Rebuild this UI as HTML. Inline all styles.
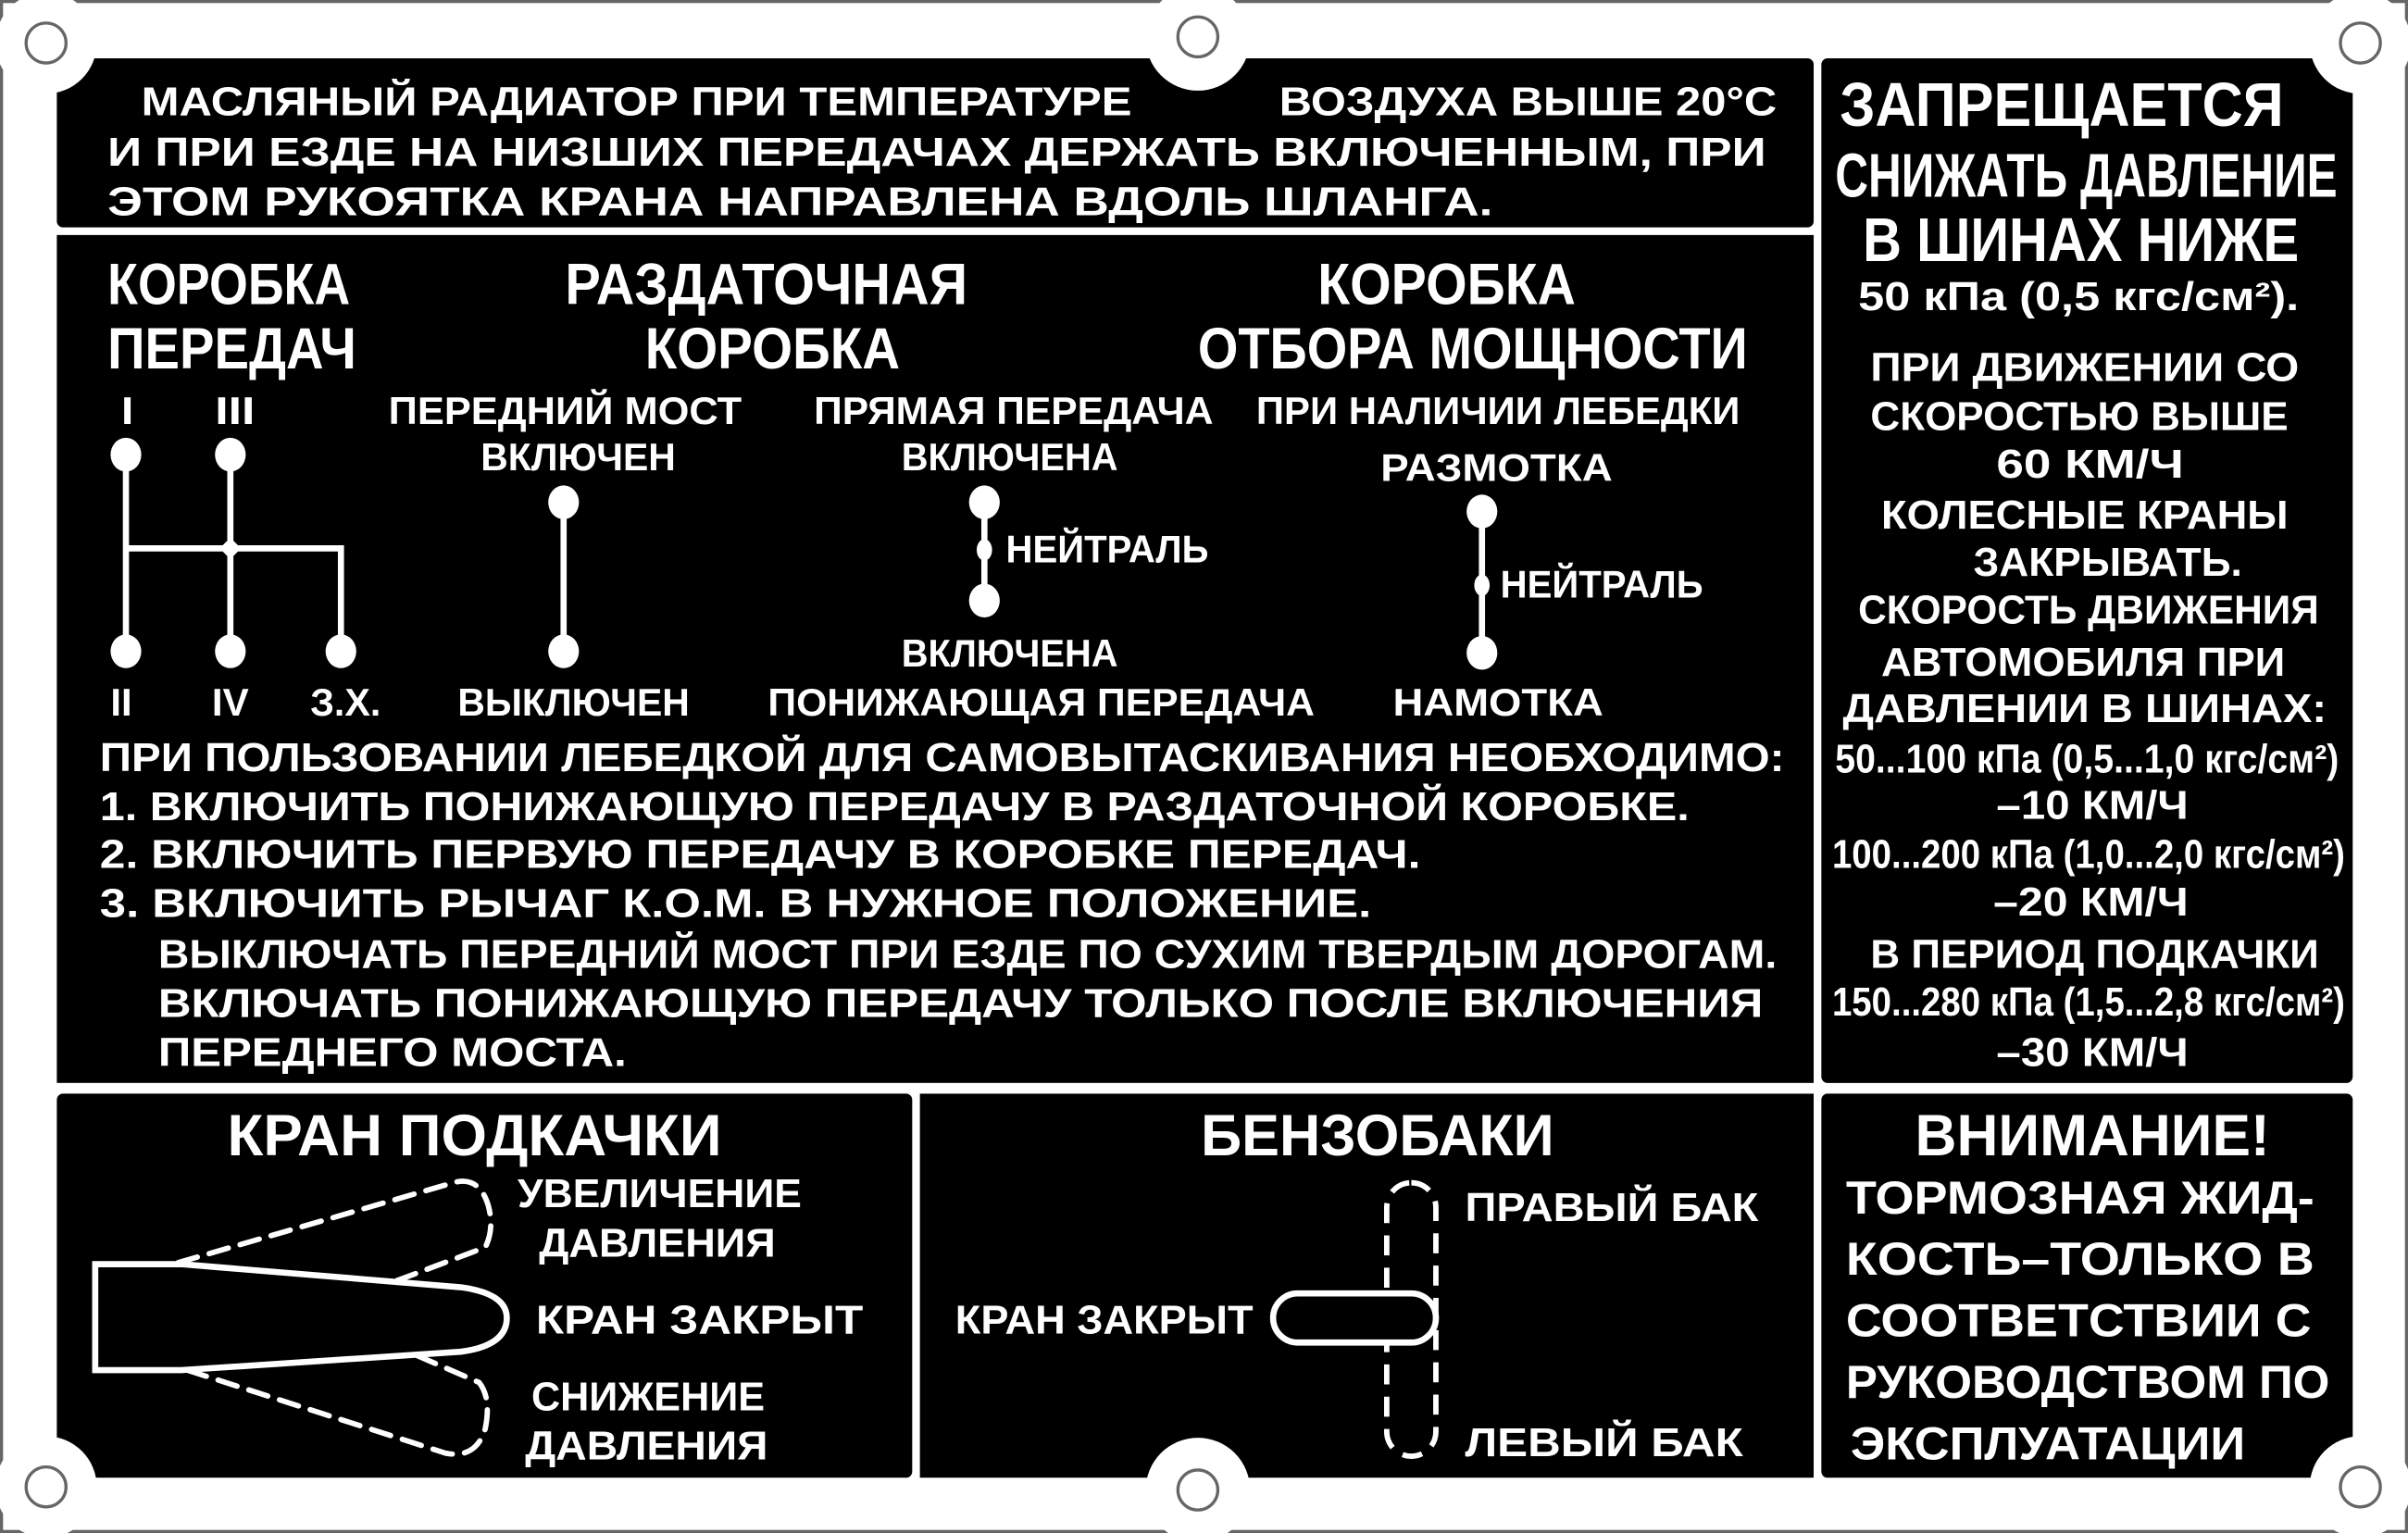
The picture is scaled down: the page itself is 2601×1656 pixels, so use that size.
<!DOCTYPE html>
<html><head><meta charset="utf-8"><style>
html,body{margin:0;padding:0;background:#fff;width:2601px;height:1656px;overflow:hidden}
svg{display:block}
text{fill:#fff;font-family:"Liberation Sans","DejaVu Sans",sans-serif;font-weight:bold}
</style></head><body>
<svg width="2601" height="1656" viewBox="0 0 1568 998" preserveAspectRatio="none" xmlns="http://www.w3.org/2000/svg">
<rect x="0" y="0" width="1568" height="998" fill="#fff"/>
<rect x="1" y="1" width="1566" height="996" fill="none" stroke="#666" stroke-width="2"/>
<!-- panels -->
<g fill="#000">
<rect x="37" y="38" width="1144" height="110" rx="4"/>
<rect x="37" y="153" width="1144" height="552"/>
<rect x="1186" y="38" width="346" height="667" rx="4"/>
<rect x="37" y="712" width="557" height="250" rx="4"/>
<rect x="599" y="712" width="582" height="250"/>
<rect x="1186" y="712" width="346" height="250" rx="4"/>
</g>
<!-- cutouts -->
<g fill="#fff">
<circle cx="30" cy="28" r="33"/>
<circle cx="780" cy="25" r="34"/>
<circle cx="1537" cy="28" r="33"/>
<circle cx="30" cy="968" r="33"/>
<circle cx="780" cy="970" r="34"/>
<circle cx="1537" cy="968" r="33"/>
</g>
<g fill="none" stroke="#666" stroke-width="2">
<ellipse cx="30" cy="28" rx="13" ry="13"/>
<ellipse cx="780" cy="24" rx="13" ry="13"/>
<ellipse cx="1537" cy="28" rx="13" ry="13"/>
<ellipse cx="30" cy="968" rx="13" ry="13"/>
<ellipse cx="780" cy="970" rx="13" ry="13"/>
<ellipse cx="1537" cy="968" rx="13" ry="13"/>
</g>

<!-- top text -->
<g font-size="26">
<text x="92" y="75" textLength="645" lengthAdjust="spacingAndGlyphs">МАСЛЯНЫЙ РАДИАТОР ПРИ ТЕМПЕРАТУРЕ</text>
<text x="833" y="75" textLength="324" lengthAdjust="spacingAndGlyphs">ВОЗДУХА ВЫШЕ 20°С</text>
<text x="70" y="108" textLength="1080" lengthAdjust="spacingAndGlyphs">И ПРИ ЕЗДЕ НА НИЗШИХ ПЕРЕДАЧАХ ДЕРЖАТЬ ВКЛЮЧЕННЫМ, ПРИ</text>
<text x="70" y="140" textLength="902" lengthAdjust="spacingAndGlyphs">ЭТОМ РУКОЯТКА КРАНА НАПРАВЛЕНА ВДОЛЬ ШЛАНГА.</text>
</g>

<!-- middle headings -->
<g font-size="38">
<text x="70" y="198" textLength="158" lengthAdjust="spacingAndGlyphs">КОРОБКА</text>
<text x="70" y="240" textLength="162" lengthAdjust="spacingAndGlyphs">ПЕРЕДАЧ</text>
<text x="368" y="198" textLength="262" lengthAdjust="spacingAndGlyphs">РАЗДАТОЧНАЯ</text>
<text x="420" y="240" textLength="166" lengthAdjust="spacingAndGlyphs">КОРОБКА</text>
<text x="858" y="198" textLength="168" lengthAdjust="spacingAndGlyphs">КОРОБКА</text>
<text x="780" y="240" textLength="358" lengthAdjust="spacingAndGlyphs">ОТБОРА МОЩНОСТИ</text>
</g>
<g font-size="25">
<text x="79" y="276" textLength="8" lengthAdjust="spacingAndGlyphs">I</text>
<text x="140" y="276" textLength="26" lengthAdjust="spacingAndGlyphs">III</text>
<text x="253" y="276" textLength="230" lengthAdjust="spacingAndGlyphs">ПЕРЕДНИЙ МОСТ</text>
<text x="530" y="276" textLength="260" lengthAdjust="spacingAndGlyphs">ПРЯМАЯ ПЕРЕДАЧА</text>
<text x="818" y="276" textLength="315" lengthAdjust="spacingAndGlyphs">ПРИ НАЛИЧИИ ЛЕБЕДКИ</text>
<text x="313" y="306" textLength="127" lengthAdjust="spacingAndGlyphs">ВКЛЮЧЕН</text>
<text x="587" y="306" textLength="141" lengthAdjust="spacingAndGlyphs">ВКЛЮЧЕНА</text>
<text x="899" y="313" textLength="151" lengthAdjust="spacingAndGlyphs">РАЗМОТКА</text>
<text x="655" y="366" textLength="132" lengthAdjust="spacingAndGlyphs">НЕЙТРАЛЬ</text>
<text x="977" y="389" textLength="132" lengthAdjust="spacingAndGlyphs">НЕЙТРАЛЬ</text>
<text x="587" y="434" textLength="141" lengthAdjust="spacingAndGlyphs">ВКЛЮЧЕНА</text>
<text x="72" y="466" textLength="14" lengthAdjust="spacingAndGlyphs">II</text>
<text x="138" y="466" textLength="24" lengthAdjust="spacingAndGlyphs">IV</text>
<text x="202" y="466" textLength="46" lengthAdjust="spacingAndGlyphs">З.Х.</text>
<text x="298" y="466" textLength="151" lengthAdjust="spacingAndGlyphs">ВЫКЛЮЧЕН</text>
<text x="500" y="466" textLength="356" lengthAdjust="spacingAndGlyphs">ПОНИЖАЮЩАЯ ПЕРЕДАЧА</text>
<text x="907" y="466" textLength="137" lengthAdjust="spacingAndGlyphs">НАМОТКА</text>
</g>
<!-- diagrams -->
<g stroke="#fff" stroke-width="4" fill="none">
<path d="M82,296V424M150,296V424M82,357H222V424"/>
<path d="M367,327V424"/>
<path d="M641,327V391"/>
<path d="M965,333V425"/>
</g>
<g fill="#fff">
<ellipse cx="82" cy="296" rx="10" ry="11"/><ellipse cx="150" cy="296" rx="10" ry="11"/>
<ellipse cx="82" cy="424" rx="10" ry="11"/><ellipse cx="150" cy="424" rx="10" ry="11"/><ellipse cx="222" cy="424" rx="10" ry="11"/>
<path d="M150,350L157,357L150,364L143,357Z"/>
<ellipse cx="367" cy="327" rx="10" ry="11"/><ellipse cx="367" cy="424" rx="10" ry="11"/>
<ellipse cx="641" cy="327" rx="10" ry="11"/><ellipse cx="641" cy="391" rx="10" ry="11"/><ellipse cx="641" cy="358" rx="5" ry="7"/>
<ellipse cx="965" cy="333" rx="10" ry="11"/><ellipse cx="965" cy="425" rx="10" ry="11"/><ellipse cx="965" cy="381" rx="5" ry="7"/>
</g>
<g font-size="26">
<text x="65" y="502" textLength="1097" lengthAdjust="spacingAndGlyphs">ПРИ ПОЛЬЗОВАНИИ ЛЕБЕДКОЙ ДЛЯ САМОВЫТАСКИВАНИЯ НЕОБХОДИМО:</text>
<text x="65" y="534" textLength="1035" lengthAdjust="spacingAndGlyphs">1. ВКЛЮЧИТЬ ПОНИЖАЮЩУЮ ПЕРЕДАЧУ В РАЗДАТОЧНОЙ КОРОБКЕ.</text>
<text x="65" y="565" textLength="860" lengthAdjust="spacingAndGlyphs">2. ВКЛЮЧИТЬ ПЕРВУЮ ПЕРЕДАЧУ В КОРОБКЕ ПЕРЕДАЧ.</text>
<text x="65" y="597" textLength="828" lengthAdjust="spacingAndGlyphs">3. ВКЛЮЧИТЬ РЫЧАГ К.О.М. В НУЖНОЕ ПОЛОЖЕНИЕ.</text>
<text x="103" y="630" textLength="1054" lengthAdjust="spacingAndGlyphs">ВЫКЛЮЧАТЬ ПЕРЕДНИЙ МОСТ ПРИ ЕЗДЕ ПО СУХИМ ТВЕРДЫМ ДОРОГАМ.</text>
<text x="103" y="662" textLength="1045" lengthAdjust="spacingAndGlyphs">ВКЛЮЧАТЬ ПОНИЖАЮЩУЮ ПЕРЕДАЧУ ТОЛЬКО ПОСЛЕ ВКЛЮЧЕНИЯ</text>
<text x="103" y="694" textLength="305" lengthAdjust="spacingAndGlyphs">ПЕРЕДНЕГО МОСТА.</text>
</g>

<!-- right panel -->
<g font-size="40">
<text x="1198" y="82" textLength="289" lengthAdjust="spacingAndGlyphs">ЗАПРЕЩАЕТСЯ</text>
<text x="1195" y="128" textLength="327" lengthAdjust="spacingAndGlyphs">СНИЖАТЬ ДАВЛЕНИЕ</text>
<text x="1213" y="170" textLength="284" lengthAdjust="spacingAndGlyphs">В ШИНАХ НИЖЕ</text>
</g>
<g font-size="26">
<text x="1210" y="202" textLength="287" lengthAdjust="spacingAndGlyphs">50 кПа (0,5 кгс/см²).</text>
<text x="1218" y="248" textLength="279" lengthAdjust="spacingAndGlyphs">ПРИ ДВИЖЕНИИ СО</text>
<text x="1218" y="280" textLength="272" lengthAdjust="spacingAndGlyphs">СКОРОСТЬЮ ВЫШЕ</text>
<text x="1300" y="311" textLength="122" lengthAdjust="spacingAndGlyphs">60 КМ/Ч</text>
<text x="1225" y="344" textLength="265" lengthAdjust="spacingAndGlyphs">КОЛЕСНЫЕ КРАНЫ</text>
<text x="1285" y="375" textLength="175" lengthAdjust="spacingAndGlyphs">ЗАКРЫВАТЬ.</text>
<text x="1210" y="406" textLength="300" lengthAdjust="spacingAndGlyphs">СКОРОСТЬ ДВИЖЕНИЯ</text>
<text x="1225" y="440" textLength="263" lengthAdjust="spacingAndGlyphs">АВТОМОБИЛЯ ПРИ</text>
<text x="1200" y="470" textLength="315" lengthAdjust="spacingAndGlyphs">ДАВЛЕНИИ В ШИНАХ:</text>
<text x="1195" y="503" textLength="328" lengthAdjust="spacingAndGlyphs">50...100 кПа (0,5...1,0 кгс/см²)</text>
<text x="1300" y="533" textLength="125" lengthAdjust="spacingAndGlyphs">–10 КМ/Ч</text>
<text x="1193" y="565" textLength="334" lengthAdjust="spacingAndGlyphs">100...200 кПа (1,0...2,0 кгс/см²)</text>
<text x="1298" y="596" textLength="127" lengthAdjust="spacingAndGlyphs">–20 КМ/Ч</text>
<text x="1218" y="630" textLength="292" lengthAdjust="spacingAndGlyphs">В ПЕРИОД ПОДКАЧКИ</text>
<text x="1193" y="661" textLength="334" lengthAdjust="spacingAndGlyphs">150...280 кПа (1,5...2,8 кгс/см²)</text>
<text x="1300" y="694" textLength="125" lengthAdjust="spacingAndGlyphs">–30 КМ/Ч</text>
</g>

<!-- bottom right -->
<text x="1247" y="752" font-size="38" textLength="231" lengthAdjust="spacingAndGlyphs">ВНИМАНИЕ!</text>
<g font-size="30">
<text x="1202" y="790" textLength="305" lengthAdjust="spacingAndGlyphs">ТОРМОЗНАЯ ЖИД-</text>
<text x="1202" y="830" textLength="305" lengthAdjust="spacingAndGlyphs">КОСТЬ–ТОЛЬКО В</text>
<text x="1202" y="870" textLength="303" lengthAdjust="spacingAndGlyphs">СООТВЕТСТВИИ С</text>
<text x="1202" y="910" textLength="315" lengthAdjust="spacingAndGlyphs">РУКОВОДСТВОМ ПО</text>
<text x="1205" y="950" textLength="257" lengthAdjust="spacingAndGlyphs">ЭКСПЛУАТАЦИИ</text>
</g>

<!-- bottom mid -->
<text x="782" y="752" font-size="38" textLength="230" lengthAdjust="spacingAndGlyphs">БЕНЗОБАКИ</text>
<g font-size="26">
<text x="954" y="795" textLength="191" lengthAdjust="spacingAndGlyphs">ПРАВЫЙ БАК</text>
<text x="622" y="868" textLength="194" lengthAdjust="spacingAndGlyphs">КРАН ЗАКРЫТ</text>
<text x="954" y="948" textLength="181" lengthAdjust="spacingAndGlyphs">ЛЕВЫЙ БАК</text>
</g>
<rect x="903" y="770" width="32" height="178" rx="16" fill="none" stroke="#fff" stroke-width="3.5" stroke-dasharray="13 8"/>
<rect x="829" y="842" width="106" height="32" rx="16" fill="#000" stroke="#fff" stroke-width="4"/>

<!-- bottom left -->
<text x="148" y="752" font-size="38" textLength="322" lengthAdjust="spacingAndGlyphs">КРАН ПОДКАЧКИ</text>
<g font-size="26">
<text x="337" y="786" textLength="185" lengthAdjust="spacingAndGlyphs">УВЕЛИЧЕНИЕ</text>
<text x="351" y="818" textLength="154" lengthAdjust="spacingAndGlyphs">ДАВЛЕНИЯ</text>
<text x="349" y="868" textLength="213" lengthAdjust="spacingAndGlyphs">КРАН ЗАКРЫТ</text>
<text x="346" y="918" textLength="152" lengthAdjust="spacingAndGlyphs">СНИЖЕНИЕ</text>
<text x="342" y="950" textLength="158" lengthAdjust="spacingAndGlyphs">ДАВЛЕНИЯ</text>
</g>
<g fill="none" stroke="#fff" stroke-width="3.5" stroke-dasharray="13 8" stroke-linecap="round">
<path d="M116,822 L295,770 Q312,765 318,785 Q322,800 316,812 L255,835"/>
<path d="M122,892 L290,946 Q310,950 316,930 Q320,910 312,900 L252,874"/>
</g>
<path d="M62,823 L118,823 L300,838 Q330,842 330,858 Q330,876 300,880 L118,892 L62,892 Z" fill="#000" stroke="#fff" stroke-width="4"/>
</svg>
</body></html>
